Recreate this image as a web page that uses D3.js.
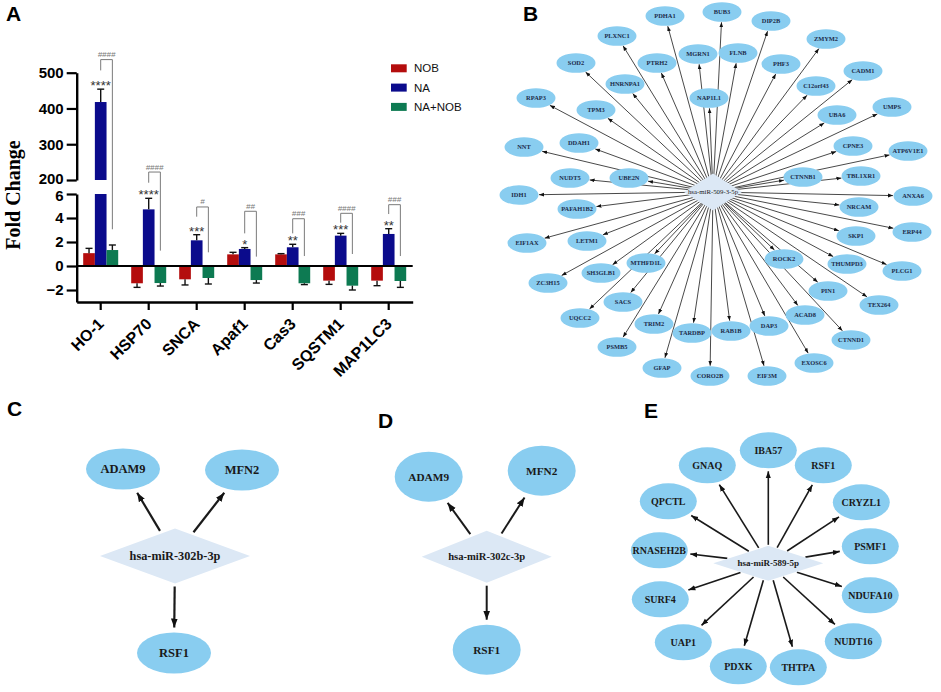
<!DOCTYPE html>
<html><head><meta charset="utf-8">
<script src="https://cdn.jsdelivr.net/npm/d3@7"></script>
<style>body{margin:0;background:#fff} svg{display:block}</style>
</head><body>
<svg id="c" width="941" height="692"></svg>
<script>
// ---------------- Panel A data ----------------
const genes = ["HO-1","HSP70","SNCA","Apaf1","Cas3","SQSTM1","MAP1LC3"];
const groups = ["NOB","NA","NA+NOB"];
const nobMean   = [1.07,-1.44,-1.11,0.97,0.97,-1.22,-1.22];
const nobErr    = [0.40,0.34,0.47,0.17,0.06,0.31,0.42];
const naMean    = [418,4.72,2.14,1.42,1.56,2.53,2.67];
const naErr     = [36,0.92,0.47,0.11,0.25,0.19,0.44];
const comboMean = [1.33,-1.42,-1.0,-1.17,-1.44,-1.64,-1.25];
const comboErr  = [0.42,0.25,0.5,0.25,0.11,0.36,0.53];
const stars  = ["****","****","***","*","**","***","**"];
const hashes = ["####","####","#","##","###","####","###"];
const bracketTop      = [17.2,7.83,4.92,4.56,3.94,4.39,5.11];
const bracketLeftEnd  = [16.3,6.94,4.11,2.72,2.72,3.61,4.33];
const bracketRightEnd = [3.06,1.28,1.14,0.78,0.83,1.0,0.83];
const upperTicks = [200,300,400,500];
const lowerTicks = [-2,0,2,4,6];

// ---------------- Panel B data ----------------
const hubB = "hsa-miR-509-3-5p";
const targetsB = ["PDHA1","BUB3","DIP2B","PLXNC1","ZMYM2","MGRN1","FLNB","SOD2","PTRH2","PHF3","CADM1",
  "HNRNPA1","C12orf43","NAP1L1","RPAP3","TPM3","UBA6","UMPS","NNT","DDAH1","CPNE3","ATP6V1E1",
  "NUDT5","UBE2N","CTNNB1","TBL1XR1","IDH1","ANXA6","PAFAH1B2","NRCAM","EIF1AX","LETM1","SKP1","ERP44",
  "MTHFD1L","ROCK2","THUMPD3","PLCG1","SH3GLB1","ZC3H15","PIN1","SACS","TEX264","UQCC2","ACAD8",
  "TRIM2","DAP3","TARDBP","RAB1B","CTNND1","PSMB5","EXOSC6","GFAP","CORO2B","EIF3M"];
const layoutB = [[-48,-176],[9,-180],[58,-171],[-96,-156],[113,-153],[-15,-138],[25,-139],[-137,-129],[-56,-129],[68,-128],[150,-121],
  [-88,-108],[103,-106],[-4,-94],[-177,-94],[-117,-82],[124,-77],[179,-85],[-189,-45],[-134,-49],[140,-46],[195,-41],
  [-143,-14],[-84,-14],[90,-15],[148,-16],[-194,3],[200,4],[-136,17],[146,15],[-186,51],[-126,49],[143,44],[199,40],
  [-67,71],[71,67],[134,72],[189,79],[-112,81],[-165,91],[115,99],[-90,110],[166,113],[-133,126],[92,123],
  [-59,132],[56,134],[-21,141],[18,139],[138,148],[-96,155],[101,171],[-51,176],[-3,184],[54,184]];

// ---------------- Panels C, D, E data ----------------
const hubC = "hsa-miR-302b-3p";
const targetsC = ["ADAM9","MFN2","RSF1"];
const layoutC = [[-52,-87],[67,-86],[-1,97]];
const hubD = "hsa-miR-302c-3p";
const targetsD = ["ADAM9","MFN2","RSF1"];
const layoutD = [[-58,-80],[55,-86],[0,93]];
const hubE = "hsa-miR-589-5p";
const targetsE = ["IBA57","RSF1","CRYZL1","PSMF1","NDUFA10","NUDT16","THTPA","PDXK","UAP1","SURF4","RNASEH2B","QPCTL","GNAQ"];
const layoutE = [[0,-113],[55,-98],[93,-61],[102,-17],[102,32],[85,78],[30,104],[-30,103],[-85,79],[-108,36],[-109,-13],[-100,-62],[-61,-98]];

// ---------------- Drawing ----------------
const svg = d3.select("#c");
svg.append("rect").attr("width",941).attr("height",692).attr("fill","#fff");
const SANS = "'Liberation Sans', Arial, sans-serif";
const SERIF = "'Liberation Serif', 'Times New Roman', serif";
const defs = svg.append("defs");
function marker(id, size){
  defs.append("marker").attr("id",id).attr("viewBox","0 0 10 10").attr("refX",10).attr("refY",5)
    .attr("markerWidth",size).attr("markerHeight",size).attr("markerUnits","userSpaceOnUse").attr("orient","auto")
    .append("path").attr("d","M0,1.2L10,5L0,8.8Z").attr("fill","#111");
}
marker("mB",5); marker("mC",9); marker("mE",7);

// panel letters
[["A",6,21],["B",523,21],["C",7,416],["D",378,428],["E",644,418]].forEach(([t,x,y])=>{
  svg.append("text").attr("x",x).attr("y",y).text(t).attr("font-family",SANS).attr("font-weight","bold").attr("font-size",21).attr("fill","#000");
});

// ===== Panel A =====
const gA = svg.append("g");
const x0 = d3.scaleBand().domain(genes).range([76.7,412.7]);
const x1 = d3.scaleBand().domain(groups).range([-17.5,17.5]);
const yLow = d3.scaleLinear().domain([-3,6]).range([302,194]);
const yUp = d3.scaleLinear().domain([200,500]).range([180,72.7]);
const colors = {"NOB":"#b40d0d","NA":"#0b0b8c","NA+NOB":"#0d7a52"};
const series = [{key:"NOB",mean:nobMean,err:nobErr},{key:"NA",mean:naMean,err:naErr},{key:"NA+NOB",mean:comboMean,err:comboErr}];
const gc = g => x0(g) + x0.bandwidth()/2;
const yOf = v => v > 6 ? yUp(v) : yLow(v);

series.forEach(s=>{
  genes.forEach((g,i)=>{
    const v = s.mean[i], bx = gc(g) + x1(s.key), bw = x1.bandwidth();
    if (v > 6) {
      gA.append("rect").attr("x",bx).attr("width",bw).attr("y",yLow(6)).attr("height",yLow(0)-yLow(6)).attr("fill",colors[s.key]);
      gA.append("rect").attr("x",bx).attr("width",bw).attr("y",yUp(v)).attr("height",yUp(200)-yUp(v)).attr("fill",colors[s.key]);
    } else {
      gA.append("rect").attr("x",bx).attr("width",bw).attr("y",Math.min(yLow(0),yLow(v))).attr("height",Math.abs(yLow(v)-yLow(0))).attr("fill",colors[s.key]);
    }
    const e = v + Math.sign(v)*s.err[i], ex = bx + bw/2;
    gA.append("line").attr("x1",ex).attr("x2",ex).attr("y1",yOf(v)).attr("y2",yOf(e)).attr("stroke","#111").attr("stroke-width",1.4);
    gA.append("line").attr("x1",ex-3.5).attr("x2",ex+3.5).attr("y1",yOf(e)).attr("y2",yOf(e)).attr("stroke","#111").attr("stroke-width",1.4);
  });
});

// zero line
gA.append("line").attr("x1",76.7).attr("x2",412.7).attr("y1",yLow(0)).attr("y2",yLow(0)).attr("stroke","#000").attr("stroke-width",2);

// y axes
function styleAxis(sel, shift){
  sel.selectAll("path.domain").attr("stroke","#000").attr("stroke-width",2.4);
  sel.selectAll(".tick line").attr("stroke","#000").attr("stroke-width",2.2);
  sel.selectAll(".tick text").attr("font-family",SANS).attr("font-weight","bold").attr("font-size",15).attr("fill","#000");
}
const ua = gA.append("g").attr("transform","translate(76.7,0)")
  .call(d3.axisLeft(yUp).tickValues(upperTicks).tickSize(10).tickSizeOuter(0).tickPadding(3)).call(styleAxis);
ua.selectAll(".tick text").filter(d=>d===200).attr("dy","0.2em");
const la = gA.append("g").attr("transform","translate(76.7,0)")
  .call(d3.axisLeft(yLow).tickValues(lowerTicks).tickSize(10).tickSizeOuter(0).tickPadding(3)).call(styleAxis);
la.selectAll(".tick text").filter(d=>d===6).attr("dy","0.45em");
// x axis
const xa = gA.append("g").attr("transform",`translate(0,${yLow(-3)})`)
  .call(d3.axisBottom(x0).tickSize(8).tickSizeOuter(0));
xa.selectAll("path.domain").attr("stroke","#000").attr("stroke-width",2.4);
xa.selectAll(".tick line").attr("stroke","#000").attr("stroke-width",2.2);
xa.selectAll(".tick text").attr("font-family",SANS).attr("font-weight","bold").attr("font-size",16).attr("fill","#000")
  .attr("text-anchor","end").attr("dy",0).attr("y",0).attr("transform","translate(4,23) rotate(-45)");

// y title
gA.append("text").attr("transform","translate(20,195) rotate(-90)").attr("text-anchor","middle")
  .attr("font-family",SERIF).attr("font-weight","bold").attr("font-size",20).text("Fold Change");

// significance
genes.forEach((g,i)=>{
  const nx = gc(g) + x1("NA") + x1.bandwidth()/2;
  const cxg = gc(g) + x1("NA+NOB") + x1.bandwidth()/2;
  gA.append("text").attr("x",nx).attr("y",yOf(naMean[i]+naErr[i])+1).attr("text-anchor","middle")
    .attr("font-family",SANS).attr("font-size",13).attr("fill","#333").text(stars[i]);
  gA.append("path").attr("d",`M${nx},${yLow(bracketLeftEnd[i])}V${yLow(bracketTop[i])}H${cxg}V${yLow(bracketRightEnd[i])}`)
    .attr("fill","none").attr("stroke","#7a7a7a").attr("stroke-width",1);
  gA.append("text").attr("x",(nx+cxg)/2).attr("y",yLow(bracketTop[i])-2.5).attr("text-anchor","middle")
    .attr("font-family",SANS).attr("font-style","italic").attr("font-size",8).attr("fill","#777").text(hashes[i]);
});

// legend
groups.forEach((k,i)=>{
  const ly = 64.3 + i*19.3;
  gA.append("rect").attr("x",391).attr("y",ly).attr("width",15.7).attr("height",8).attr("fill",colors[k]);
  gA.append("text").attr("x",414).attr("y",ly+8).attr("font-family",SANS).attr("font-size",11.5).attr("fill","#111").text(k);
});

// ===== Networks =====
function drawNetwork(o){
  const g = svg.append("g");
  const sx = d3.scaleLinear().domain([-100,100]).range([o.cx-100,o.cx+100]);
  const sy = d3.scaleLinear().domain([-100,100]).range([o.cy-100,o.cy+100]);
  const cx = sx(0), cy = sy(0);
  const nodes = o.names.map((n,i)=>({name:n,x:sx(o.layout[i][0]),y:sy(o.layout[i][1])}));
  const eg = g.append("g");
  nodes.forEach(nd=>{
    const dx = nd.x-cx, dy = nd.y-cy, L = Math.hypot(dx,dy), ux = dx/L, uy = dy/L;
    const tE = 1/Math.sqrt((ux/o.rx)**2 + (uy/o.ry)**2);
    const tS = o.fromEdge ? 1/(Math.abs(ux)/(o.dw/2) + Math.abs(uy)/(o.dh/2)) : 0;
    eg.append("line").attr("x1",cx+ux*(tS+o.sGap)).attr("y1",cy+uy*(tS+o.sGap))
      .attr("x2",nd.x-ux*(tE+o.eGap)).attr("y2",nd.y-uy*(tE+o.eGap))
      .attr("stroke","#1a1a1a").attr("stroke-width",o.sw).attr("marker-end",`url(#${o.marker})`);
  });
  const ng = g.append("g");
  nodes.forEach(nd=>{
    ng.append("ellipse").attr("cx",nd.x).attr("cy",nd.y).attr("rx",o.rx).attr("ry",o.ry).attr("fill","#89cdf0");
    ng.append("text").attr("x",nd.x).attr("y",nd.y).attr("dy","0.35em").attr("text-anchor","middle")
      .attr("font-family",SERIF).attr("font-weight","bold").attr("font-size",o.fs).attr("fill",o.tc).text(nd.name);
  });
  g.append("polygon").attr("points",`${cx-o.dw/2},${cy} ${cx},${cy-o.dh/2} ${cx+o.dw/2},${cy} ${cx},${cy+o.dh/2}`).attr("fill","#dce8f5");
  g.append("text").attr("x",cx).attr("y",cy).attr("dy","0.35em").attr("text-anchor","middle")
    .attr("font-family",SERIF).attr("font-weight",o.hubBold?"bold":"normal").attr("font-size",o.hfs).attr("fill","#1a1a1a").text(o.hub);
}

drawNetwork({cx:713,cy:192,names:targetsB,layout:layoutB,hub:hubB,rx:19.5,ry:9.8,dw:58,dh:37,
  fromEdge:false,sGap:0,eGap:0.5,sw:0.8,marker:"mB",fs:6.4,tc:"#1c2b4a",hfs:6.8,hubBold:false});
drawNetwork({cx:175,cy:556,names:targetsC,layout:layoutC,hub:hubC,rx:37,ry:20.5,dw:150,dh:55,
  fromEdge:true,sGap:3,eGap:5,sw:2.2,marker:"mC",fs:12.5,tc:"#1a1a1a",hfs:12.3,hubBold:true});
drawNetwork({cx:486.7,cy:556.7,names:targetsD,layout:layoutD,hub:hubD,rx:34,ry:25,dw:130,dh:52,
  fromEdge:true,sGap:3,eGap:5,sw:2,marker:"mC",fs:11.3,tc:"#1a1a1a",hfs:10.6,hubBold:true});
drawNetwork({cx:768.3,cy:563.3,names:targetsE,layout:layoutE,hub:hubE,rx:28.5,ry:18,dw:110,dh:35,
  fromEdge:true,sGap:1,eGap:3,sw:1.6,marker:"mE",fs:10,tc:"#1a1a1a",hfs:9,hubBold:true});
</script>
</body></html>
